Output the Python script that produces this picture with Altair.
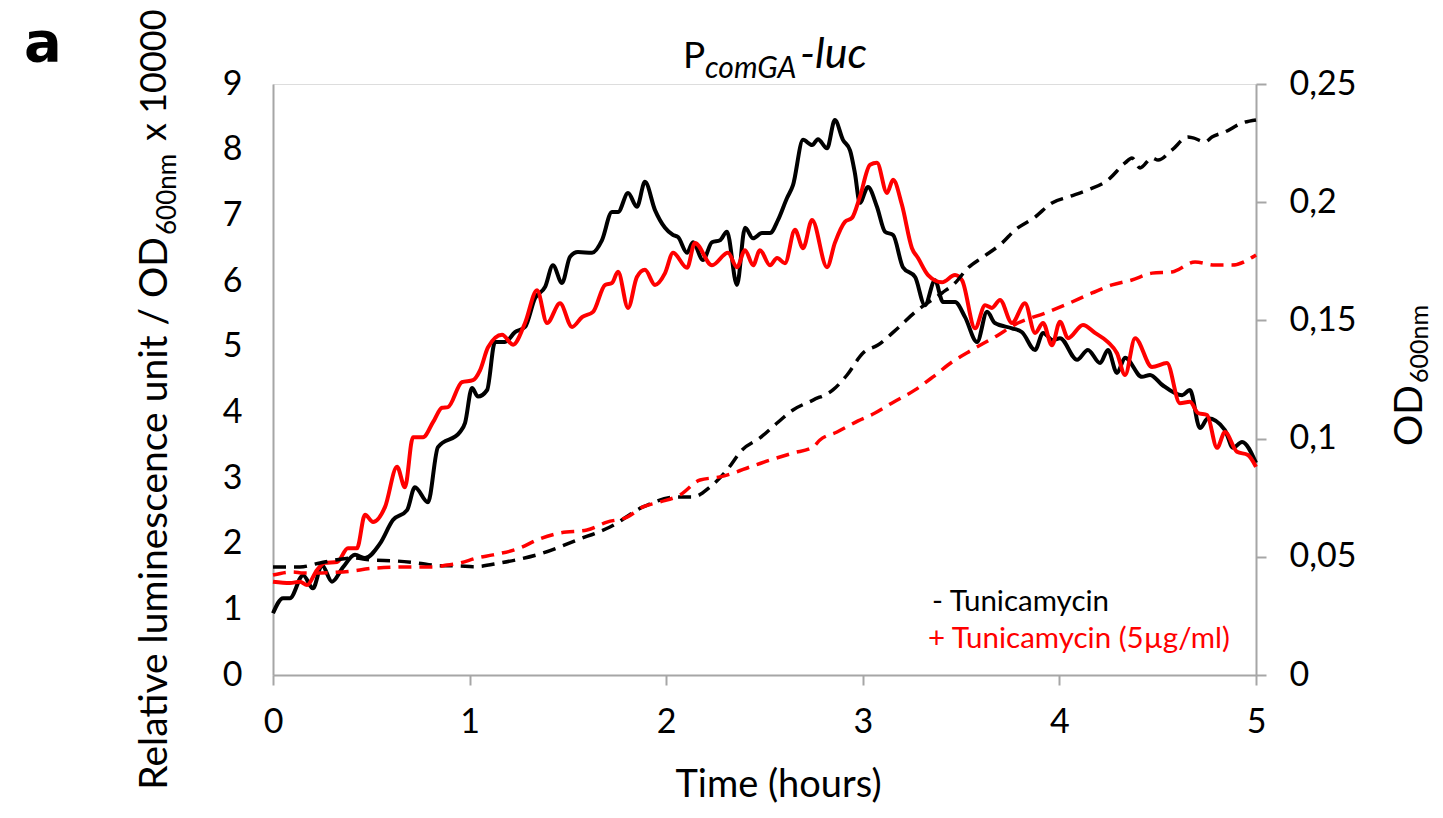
import altair as alt
import pandas as pd

# ---------------- data ----------------
t_ctrl = [0, 0.051, 0.086, 0.153, 0.203, 0.249, 0.300, 0.356, 0.417, 0.468, 0.544, 0.610, 0.682, 0.722, 0.788,
          0.839, 0.951, 0.977, 1.012, 1.043, 1.089, 1.129, 1.180, 1.231, 1.282, 1.333, 1.384, 1.424, 1.470, 1.511,
          1.551, 1.623, 1.673, 1.724, 1.755, 1.806, 1.851, 1.892, 1.943, 1.994, 2.035, 2.060, 2.106, 2.136, 2.187,
          2.233, 2.274, 2.309, 2.360, 2.401, 2.442, 2.487, 2.528, 2.569, 2.614, 2.645, 2.696, 2.742, 2.772, 2.818,
          2.858, 2.899, 2.935, 2.960, 2.985, 3.026, 3.072, 3.113, 3.154, 3.204, 3.266, 3.316, 3.367, 3.408, 3.469,
          3.520, 3.581, 3.632, 3.672, 3.759, 3.810, 3.876, 3.917, 3.967, 4.003, 4.090, 4.145, 4.207, 4.247, 4.293,
          4.334, 4.420, 4.461, 4.522, 4.624, 4.664, 4.715, 4.756, 4.842, 4.883, 4.929, 5.0]
lum_ctrl = [0.94, 1.17, 1.17, 1.52, 1.32, 1.67, 1.42, 1.64, 1.83, 1.78, 2.00, 2.36, 2.51, 2.86, 2.63,
            3.47, 3.70, 3.84, 4.37, 4.24, 4.34, 5.07, 5.07, 5.22, 5.30, 5.74, 5.91, 6.24, 5.97, 6.37,
            6.44, 6.43, 6.62, 7.05, 7.05, 7.34, 7.13, 7.51, 7.08, 6.81, 6.70, 6.67, 6.43, 6.59, 6.32,
            6.59, 6.62, 6.75, 5.94, 6.81, 6.65, 6.73, 6.73, 6.93, 7.26, 7.46, 8.15, 8.07, 8.16, 8.02,
            8.45, 8.15, 7.99, 7.64, 7.19, 7.43, 7.13, 6.75, 6.70, 6.21, 6.06, 5.63, 6.01, 5.68, 5.68,
            5.45, 5.07, 5.53, 5.36, 5.28, 5.22, 4.95, 5.21, 5.10, 5.13, 4.80, 4.95, 4.75, 4.95, 4.60,
            4.83, 4.54, 4.57, 4.42, 4.26, 4.34, 3.76, 3.91, 3.73, 3.46, 3.55, 3.23]

t_tun = [0, 0.086, 0.137, 0.173, 0.224, 0.264, 0.326, 0.381, 0.427, 0.468, 0.509, 0.570, 0.631, 0.671, 0.712,
         0.763, 0.814, 0.860, 0.890, 0.961, 1.017, 1.053, 1.094, 1.165, 1.221, 1.282, 1.343, 1.394, 1.460, 1.521,
         1.572, 1.628, 1.689, 1.724, 1.755, 1.806, 1.851, 1.892, 1.943, 1.994, 2.035, 2.106, 2.146, 2.233, 2.314,
         2.360, 2.401, 2.442, 2.477, 2.528, 2.564, 2.604, 2.655, 2.696, 2.742, 2.818, 2.858, 2.909, 2.945, 2.985,
         3.037, 3.072, 3.123, 3.154, 3.199, 3.250, 3.281, 3.332, 3.403, 3.469, 3.505, 3.571, 3.622, 3.657, 3.698,
         3.759, 3.825, 3.876, 3.917, 3.962, 4.003, 4.044, 4.120, 4.181, 4.247, 4.293, 4.334, 4.385, 4.471, 4.547,
         4.613, 4.664, 4.705, 4.751, 4.802, 4.842, 4.903, 4.959, 5.0]
lum_tun = [1.42, 1.40, 1.42, 1.37, 1.60, 1.71, 1.72, 1.93, 1.93, 2.44, 2.33, 2.56, 3.17, 2.86, 3.62,
           3.62, 3.85, 4.07, 4.08, 4.46, 4.49, 4.64, 4.99, 5.18, 5.03, 5.36, 5.86, 5.36, 5.66, 5.30,
           5.45, 5.53, 5.94, 5.97, 6.14, 5.59, 6.06, 6.17, 5.94, 6.12, 6.43, 6.20, 6.58, 6.24, 6.43,
           6.21, 6.47, 6.24, 6.47, 6.24, 6.35, 6.27, 6.78, 6.50, 6.93, 6.21, 6.58, 6.90, 6.96, 7.28,
           7.77, 7.80, 7.34, 7.54, 7.16, 6.50, 6.35, 6.09, 5.98, 6.09, 6.01, 5.28, 5.63, 5.59, 5.71,
           5.36, 5.66, 5.21, 5.36, 5.02, 5.38, 5.13, 5.33, 5.21, 5.07, 4.90, 4.57, 5.13, 4.69, 4.75,
           4.14, 4.16, 3.99, 3.96, 3.46, 3.70, 3.40, 3.35, 3.17]

t_od_ctrl = [0, 0.137, 0.239, 0.407, 0.493, 0.631, 0.732, 0.834, 0.951, 1.017, 1.155, 1.373, 1.546, 1.714, 1.882,
             2.055, 2.136, 2.223, 2.309, 2.386, 2.477, 2.564, 2.645, 2.747, 2.848, 2.920, 3.001, 3.077, 3.179, 3.266,
             3.403, 3.469, 3.535, 3.611, 3.708, 3.774, 3.876, 3.962, 4.044, 4.145, 4.247, 4.334, 4.369, 4.410, 4.471,
             4.502, 4.573, 4.654, 4.680, 4.741, 4.776, 4.842, 4.929, 5.0]
od_ctrl = [0.0457, 0.0457, 0.0474, 0.0495, 0.0487, 0.0482, 0.0474, 0.0463, 0.0461, 0.0458, 0.0474, 0.0516, 0.0571,
           0.0626, 0.0711, 0.0753, 0.0753, 0.0795, 0.0867, 0.0952, 0.1003, 0.1066, 0.1121, 0.1163, 0.1206, 0.1269,
           0.1362, 0.1396, 0.1468, 0.1535, 0.1616, 0.1658, 0.1722, 0.1768, 0.1827, 0.1882, 0.1937, 0.1997, 0.2022,
           0.2052, 0.2094, 0.2166, 0.2187, 0.2145, 0.2187, 0.2178, 0.2221, 0.2276, 0.2272, 0.2255, 0.2276, 0.2297,
           0.2335, 0.2348]

t_od_tun = [0, 0.102, 0.153, 0.356, 0.529, 0.697, 0.814, 0.885, 0.951, 1.038, 1.119, 1.256, 1.343, 1.460, 1.597,
            1.699, 1.801, 1.882, 1.968, 2.070, 2.172, 2.274, 2.340, 2.426, 2.528, 2.645, 2.747, 2.782, 2.869, 2.976,
            3.062, 3.149, 3.266, 3.357, 3.454, 3.555, 3.672, 3.789, 3.927, 4.028, 4.166, 4.268, 4.369, 4.471, 4.573,
            4.690, 4.791, 4.878, 5.0]
od_tun = [0.0423, 0.0436, 0.0431, 0.0436, 0.0453, 0.0457, 0.0457, 0.0465, 0.0474, 0.0495, 0.0508, 0.0537, 0.0571,
          0.0601, 0.0613, 0.0647, 0.0668, 0.0711, 0.0732, 0.0761, 0.0825, 0.0838, 0.0854, 0.0880, 0.0909, 0.0939,
          0.0964, 0.0994, 0.1028, 0.1075, 0.1108, 0.1151, 0.1206, 0.1261, 0.1324, 0.1375, 0.1430, 0.1489, 0.1531,
          0.1565, 0.1616, 0.1650, 0.1671, 0.1700, 0.1705, 0.1747, 0.1734, 0.1734, 0.1777]

series = ["ctrl", "tun"]
series_colors = ["#000000", "#ff0000"]
legend_labels = ["- Tunicamycin", "+ Tunicamycin (5\u00b5g/ml)"]
x_ticks = [0, 1, 2, 3, 4, 5]
lum_ticks = [0, 1, 2, 3, 4, 5, 6, 7, 8, 9]
od_ticks = [0, 0.05, 0.1, 0.15, 0.2, 0.25]

FONT = "Lato"
AXIS_GRAY = "#a6a6a6"

lum_df = pd.concat([
    pd.DataFrame({"t": t_ctrl, "v": lum_ctrl, "s": "ctrl"}),
    pd.DataFrame({"t": t_tun, "v": lum_tun, "s": "tun"}),
])
od_df = pd.concat([
    pd.DataFrame({"t": t_od_ctrl, "od": od_ctrl, "s": "ctrl"}),
    pd.DataFrame({"t": t_od_tun, "od": od_tun, "s": "tun"}),
])

color = alt.Color("s:N", scale=alt.Scale(domain=series, range=series_colors), legend=None)
x_enc = alt.X("t:Q", scale=alt.Scale(domain=[0, 5], nice=False),
              axis=alt.Axis(values=x_ticks, tickSize=10, tickWidth=2, tickColor=AXIS_GRAY,
                            domainColor=AXIS_GRAY, domainWidth=2, labelPadding=20, grid=False,
                            labelFlush=False,
                            labelFontSize=34, labelFont=FONT, labelColor="#000",
                            title="Time (hours)", titleFont=FONT, titleFontSize=38,
                            titleFontWeight="normal", titleColor="#000", titlePadding=27,
                            titleX=505, titleAlign="center"))

lum = alt.Chart(lum_df).mark_line(strokeWidth=4, interpolate="monotone").encode(
    x=x_enc,
    y=alt.Y("v:Q", scale=alt.Scale(domain=[0, 9], nice=False),
            axis=alt.Axis(values=lum_ticks, ticks=False, labelPadding=31, grid=False, title=None,
                          labelFlush=False,
                          domainColor=AXIS_GRAY, domainWidth=2, labelFontSize=34, labelFont=FONT,
                          labelColor="#000")),
    color=color,
)

od = alt.Chart(od_df).mark_line(strokeWidth=3.5, strokeDash=[13, 8], interpolate="monotone").encode(
    x=x_enc,
    y=alt.Y("od:Q", scale=alt.Scale(domain=[0, 0.25], nice=False),
            axis=alt.Axis(orient="right", values=od_ticks, tickSize=10, tickWidth=2, tickColor=AXIS_GRAY,
                          labelExpr="replace(toString(datum.value), '.', ',')",
                          labelPadding=23, grid=False, title=None, labelFlush=False,
                          domainColor=AXIS_GRAY, domainWidth=2, labelFontSize=34, labelFont=FONT,
                          labelColor="#000")),
    color=color,
)

# ---------------- text pieces (titles with subscripts, legend, panel letter) ----------------
def txt(df, font=FONT, **kw):
    return alt.Chart(df).mark_text(font=font, **kw).encode(
        x=alt.X("px:Q", scale=None), y=alt.Y("py:Q", scale=None), text="label:N")

title_main = txt(pd.DataFrame({"label": ["P"], "px": [410], "py": [-16]}),
                 fontSize=37, align="left", baseline="alphabetic", color="#000")
title_sub = txt(pd.DataFrame({"label": ["comGA"], "px": [432], "py": [-6]}),
                fontSize=30, fontStyle="italic", align="left", baseline="alphabetic", color="#000")
title_end = txt(pd.DataFrame({"label": ["-luc"], "px": [527], "py": [-16]}),
                fontSize=43, fontStyle="italic", align="left", baseline="alphabetic", color="#000")

ytitle_a = txt(pd.DataFrame({"label": ["Relative luminescence unit / OD"], "px": [-118], "py": [153]}),
               fontSize=39, angle=270, align="right", baseline="middle", color="#000")
ytitle_b = txt(pd.DataFrame({"label": ["600nm"], "px": [-105], "py": [151]}),
               fontSize=26, angle=270, align="left", baseline="middle", color="#000")
ytitle_c = txt(pd.DataFrame({"label": ["x 10000"], "px": [-118], "py": [57]}),
               fontSize=36, angle=270, align="left", baseline="middle", color="#000")

y2title_a = txt(pd.DataFrame({"label": ["OD"], "px": [1137], "py": [301]}),
                fontSize=39, angle=270, align="right", baseline="middle", color="#000")
y2title_b = txt(pd.DataFrame({"label": ["600nm"], "px": [1147], "py": [299]}),
                fontSize=25, angle=270, align="left", baseline="middle", color="#000")

legend_df = pd.DataFrame({"label": legend_labels, "px": [659, 655], "py": [527, 564], "s": series})
legend_txt = alt.Chart(legend_df).mark_text(font=FONT, fontSize=29.5, align="left", baseline="alphabetic").encode(
    x=alt.X("px:Q", scale=None), y=alt.Y("py:Q", scale=None), text="label:N", color=color)

panel = txt(pd.DataFrame({"label": ["a"], "px": [-249], "py": [-23]}), font="DejaVu Sans",
            fontSize=56, fontWeight="bold", align="left", baseline="alphabetic", color="#000")

chart = alt.layer(
    lum, od,
    title_main, title_sub, title_end,
    ytitle_a, ytitle_b, ytitle_c,
    y2title_a, y2title_b,
    legend_txt, panel,
).resolve_scale(y="independent").properties(
    width=983, height=591,
    autosize=alt.AutoSizeParams(type="none"),
    padding={"left": 265, "top": 76, "right": 178, "bottom": 134},
).configure_view(stroke=None).configure(background="white")

chart.save("out.html", embed_options={"renderer": "svg", "actions": False})
